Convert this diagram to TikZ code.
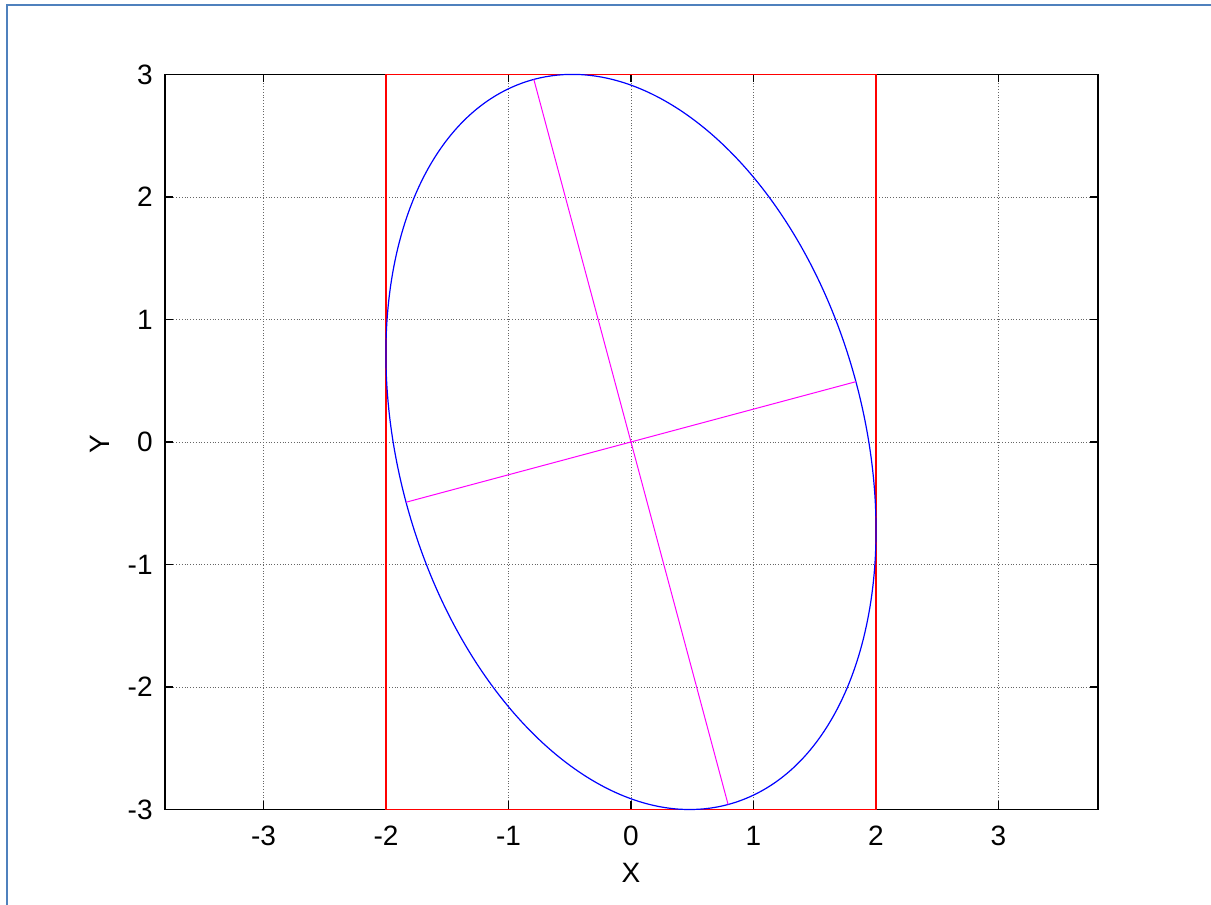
\documentclass[tikz,border=0pt]{standalone}
\usepackage{fontspec}
\setmainfont{Liberation Sans}
\usepackage{tikz}
\usetikzlibrary{positioning,calc}

\definecolor{framebl}{RGB}{79,129,189}
\definecolor{plotred}{RGB}{255,0,0}
\definecolor{plotblue}{RGB}{0,0,255}
\definecolor{plotmag}{RGB}{255,0,255}

\begin{document}
\begin{tikzpicture}[
    x=61.25pt, y=61.25pt,
    font=\fontsize{14}{16}\selectfont,
    axbox/.style={draw, black, line width=0.8pt},
    gridln/.style={black!60, line width=0.4pt, densely dotted},
    tickmk/.style={black, line width=0.6pt},
    bound/.style={plotred, line width=0.7pt},
    curve/.style={plotblue, line width=0.6pt},
    axisln/.style={plotmag, line width=0.5pt},
    ticklbl/.style={inner sep=0pt},
  ]
  \useasboundingbox (-5.151,-3.780) rectangle (4.735,3.608);

  % --- outer frame ---
  \coordinate (fbl) at (-5.094,-3.780);
  \coordinate (ftl) at (-5.094,3.567);
  \coordinate (ftr) at (4.735,3.567);
  \draw[framebl, line width=1pt] (fbl) -- (ftl) -- (ftr);

  % --- grid ---
  \foreach \x in {-3,...,3}
    \draw[gridln] (\x,-3) -- (\x,3);
  \foreach \y in {-2,...,2}
    \draw[gridln] (-3.804,\y) -- (3.812,\y);

  % --- axes box and ticks ---
  \draw[axbox] (-3.804,-3) rectangle (3.812,3);
  \foreach \x in {-3,...,3} {
    \draw[tickmk] (\x,-3) -- ++(0,0.065);
    \draw[tickmk] (\x,3) -- ++(0,-0.065);
    \node[ticklbl, anchor=north] (xt\x) at (\x,-3.13) {\x};
  }
  \foreach \y in {-3,...,3} {
    \draw[tickmk] (-3.804,\y) -- ++(0.065,0);
    \draw[tickmk] (3.812,\y) -- ++(-0.065,0);
    \node[ticklbl, anchor=east] (yt\y) at (-3.902,\y) {\y};
  }

  % --- data ---
  \draw[bound] (-2,-3) rectangle (2,3);
  \draw[curve, rotate=15] (0,0) ellipse [x radius=1.901, y radius=3.064];
  \coordinate (c0) at (0,0);
  \coordinate (maj1) at (-0.793,2.960);
  \coordinate (maj2) at (0.793,-2.960);
  \coordinate (min1) at (1.836,0.492);
  \coordinate (min2) at (-1.836,-0.492);
  \draw[axisln] (maj1) -- (maj2);
  \draw[axisln] (min1) -- (min2);

  % --- axis labels ---
  \node (xlab) at (0,-3.518) {X};
  \node[rotate=90] (ylab) at (-4.335,-0.02) {Y};
\end{tikzpicture}
\end{document}
